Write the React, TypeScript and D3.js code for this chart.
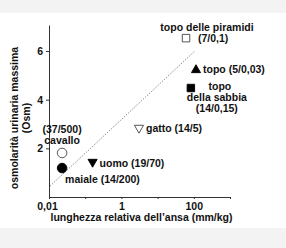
import * as d3 from 'd3'
import { useEffect, useRef } from 'react'

// loop of Henle length vs. max urine osmolarity
const animals = ['topo delle piramidi', 'topo', 'topo della sabbia', 'gatto', 'uomo', 'cavallo', 'maiale']
const loopLength = [61, 115, 83, 3.06, 0.16, 0.023, 0.023] // mm/kg
const maxOsm = [6.53, 5.22, 4.48, 2.84, 1.44, 1.81, 1.19] // Osm
const ratios = ['(7/0,1)', '(5/0,03)', '(14/0,15)', '(14/5)', '(19/70)', '(37/500)', '(14/200)']
const shapes = ['square', 'triangle', 'square', 'triangleDown', 'triangleDown', 'circle', 'circle']
const filled = [false, true, true, false, true, false, true]

const trendX = [0.0107, 107]
const trendY = [0.45, 6.0]

const xTicks = [0.01, 0.1, 1, 10, 100, 1000]
const xTickLabels = ['0,01', '', '1', '', '100', '']
const yTicks = [2, 4, 6]

// label layout: lines of text, offsets from the marker, anchor
const labelLayout: { lines: string[]; dx: number[]; dy: number[]; anchor: string }[] = [
  { lines: ['topo delle piramidi', '(7/0,1)'], dx: [21, 12], dy: [-7, 4], anchor: 'mixed' },
  { lines: ['topo (5/0,03)'], dx: [7], dy: [3], anchor: 'start' },
  { lines: ['topo', 'della sabbia', '(14/0,15)'], dx: [29, 26, 26], dy: [2, 13, 24], anchor: 'middle' },
  { lines: ['gatto (14/5)'], dx: [7], dy: [4], anchor: 'start' },
  { lines: ['uomo (19/70)'], dx: [7], dy: [5], anchor: 'start' },
  { lines: ['(37/500)', 'cavallo'], dx: [0, 0], dy: [-20, -8.5], anchor: 'middle' },
  { lines: ['maiale (14/200)'], dx: [3], dy: [15], anchor: 'start' },
]

export default function App() {
  const ref = useRef<HTMLDivElement | null>(null)

  useEffect(() => {
    const width = 286
    const height = 248
    const marginLeft = 49
    const marginRight = 56
    const marginTop = 25
    const marginBottom = 51
    const font = '"Liberation Sans", Arial, sans-serif'

    const x = d3
      .scaleLog()
      .domain([0.01, 1000])
      .range([marginLeft, width - marginRight])
    const y = d3
      .scaleLinear()
      .domain([0, 7.07])
      .range([height - marginBottom, marginTop])

    const svg = d3
      .create('svg')
      .attr('width', width)
      .attr('height', height)
      .attr('viewBox', [0, 0, width, height])
      .style('position', 'absolute')
      .style('left', '0px')
      .style('top', '0px')
      .style('font-family', font)

    // page bands
    svg.append('rect').attr('width', width).attr('height', height).attr('fill', '#f3f3f3')
    svg.append('rect').attr('y', 13).attr('width', width).attr('height', 215).attr('fill', '#ffffff')

    // trend line
    const line = d3
      .line<number>()
      .x((_, i) => x(trendX[i]))
      .y((d) => y(d))
    svg
      .append('path')
      .attr('d', line(trendY))
      .attr('fill', 'none')
      .attr('stroke', '#555')
      .attr('stroke-width', 0.9)
      .attr('stroke-dasharray', '1,1.6')

    // axes
    const xAxis = svg
      .append('g')
      .attr('transform', `translate(0,${height - marginBottom})`)
      .call(
        d3
          .axisBottom(x)
          .tickValues(xTicks)
          .tickFormat((_, i) => xTickLabels[i])
          .tickSize(2)
          .tickSizeOuter(0)
          .tickPadding(4)
      )
    xAxis.select('.domain').attr('stroke', '#333')
    xAxis.selectAll('line').attr('stroke', '#333')
    xAxis
      .selectAll('text')
      .attr('font-size', 10.5)
      .attr('font-weight', 'bold')
      .attr('font-family', font)
      .attr('fill', '#111')
      .attr('dx', (_, i) => (i === 0 ? -2 : 0))

    const yAxis = svg
      .append('g')
      .attr('transform', `translate(${marginLeft},0)`)
      .call(
        d3
          .axisLeft(y)
          .tickValues(yTicks)
          .tickFormat(d3.format('d'))
          .tickSize(3)
          .tickSizeOuter(0)
          .tickPadding(3)
      )
    yAxis.select('.domain').attr('stroke', '#333')
    yAxis.selectAll('line').attr('stroke', '#333')
    yAxis
      .selectAll('text')
      .attr('font-size', 10.5)
      .attr('font-weight', 'bold')
      .attr('font-family', font)
      .attr('fill', '#111')

    // axis titles
    svg
      .append('text')
      .attr('x', (marginLeft + width - marginRight) / 2 + 2)
      .attr('y', 221)
      .attr('text-anchor', 'middle')
      .attr('font-size', 10.5)
      .attr('font-weight', 'bold')
      .attr('fill', '#111')
      .text('lunghezza relativa dell\u2019ansa (mm/kg)')

    const yTitle = svg
      .append('text')
      .attr('transform', `translate(18,118) rotate(-90)`)
      .attr('text-anchor', 'middle')
      .attr('font-size', 10.5)
      .attr('font-weight', 'bold')
      .attr('fill', '#111')
    yTitle.append('tspan').attr('x', 0).attr('y', 0).text('osmolarità urinaria massima')
    yTitle.append('tspan').attr('x', 0).attr('y', 12).text('(Osm)')

    // markers
    const symbolFor = (s: string) => {
      if (s === 'circle') return d3.symbol(d3.symbolCircle, 72)()
      if (s === 'square') return d3.symbol(d3.symbolSquare, 56)()
      return d3.symbol(d3.symbolTriangle, 36)()
    }

    animals.forEach((name, i) => {
      const px = x(loopLength[i])
      const py = y(maxOsm[i])
      svg
        .append('path')
        .attr('d', symbolFor(shapes[i]))
        .attr(
          'transform',
          `translate(${px},${py})${shapes[i] === 'triangleDown' ? ' rotate(180)' : ''}`
        )
        .attr('fill', filled[i] ? '#000' : '#fff')
        .attr('stroke', filled[i] ? '#000' : '#444')
        .attr('stroke-width', 0.9)
        .append('title')
        .text(`${name} ${ratios[i]}`)

      const lab = labelLayout[i]
      lab.lines.forEach((t, j) => {
        const anchor = lab.anchor === 'mixed' ? (j === 0 ? 'middle' : 'start') : lab.anchor
        svg
          .append('text')
          .attr('x', px + lab.dx[j])
          .attr('y', py + lab.dy[j])
          .attr('text-anchor', anchor)
          .attr('font-size', 10.5)
          .attr('font-weight', 'bold')
          .attr('fill', '#111')
          .text(t)
      })
    })

    if (ref.current) {
      ref.current.innerHTML = ''
      ref.current.appendChild(svg.node()!)
    }
  }, [])

  return <div ref={ref} style={{ width: 286, height: 248 }} />
}
